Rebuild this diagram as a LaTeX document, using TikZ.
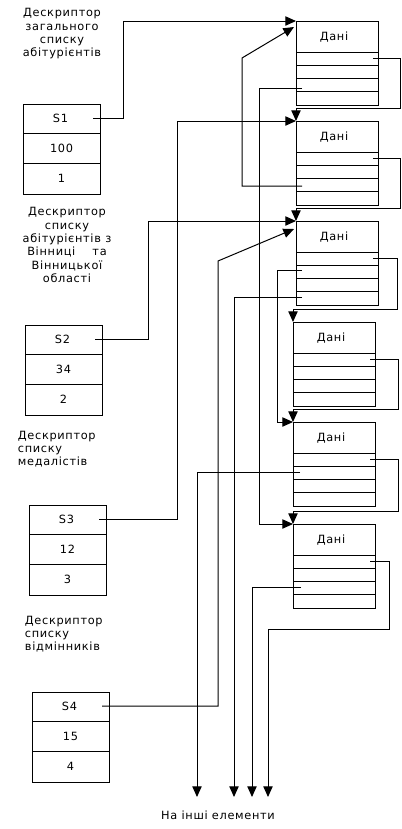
\documentclass[tikz,border=0pt]{standalone}
\usepackage{fontspec}
\setmainfont{DejaVu Sans}[LetterSpace=6]
\usetikzlibrary{calc,arrows.meta}

\begin{document}
\begin{tikzpicture}[x=0.75pt,y=-0.75pt,
  font=\fontsize{8.5pt}{10pt}\selectfont, line width=0.75pt,
  ptr/.style={-{Triangle[length=8pt,width=7pt]}},
  elem/.style={draw, anchor=north west, minimum width=61.5pt, minimum height=63pt, inner sep=0pt, outer sep=0pt},
  desc/.style={draw, anchor=north west, minimum width=57.75pt, minimum height=67.5pt, inner sep=0pt, outer sep=0pt}]
\useasboundingbox (0,0) rectangle (401,829);

% descriptor captions
\node[align=center] (l1) at (62,34) {Дескриптор\\загального\\списку\\абітурієнтів};
\node[align=center] (l2) at (67,245) {Дескриптор\\списку\\абітурієнтів з\\Вінниці~~~ та\\Вінницької\\області};
\node[align=left, anchor=west] (l3) at (13,449) {Дескриптор\\списку\\медалістів};
\node[align=left, anchor=west] (l4) at (20,634) {Дескриптор\\списку\\відмінників};
\node (other) at (218,815) {На інші елементи};

% descriptors
\foreach \n/\x/\y/\len/\num in {1/23/104/100/1, 2/25/325/34/2, 3/29/505/12/3, 4/32/692/15/4}{
  \node[desc] (d\n) at (\x,\y) {};
  \draw ($(d\n.north west)+(0,29)$) -- ++(77,0);
  \draw ($(d\n.north west)+(0,59)$) -- ++(77,0);
  \node (ds\n) at ($(d\n.north)+(-1,14)$) {S\n};
  \node (dl\n) at ($(d\n.north)+(0,44)$) {\len};
  \node (dn\n) at ($(d\n.north)+(0,74)$) {\num};
  \coordinate (s\n) at ($(d\n.north east)+(-7,14)$);
}

% list elements
\foreach \n/\x/\y in {1/296/21, 2/296/121, 3/296/221, 4/293/322, 5/293/422, 6/293/524}{
  \node[elem] (e\n) at (\x,\y) {};
  \node (h\n) at ($(e\n.north)+(-3,16)$) {Дані};
  \foreach \k in {31,44,57,70}
    \draw ($(e\n.north west)+(0,\k)$) -- ++(82,0);
  \coordinate (n\n) at ($(e\n.north east)+(-5,37)$);
}

% outgoing ends
\coordinate (o1) at (197,797);
\coordinate (o2) at (234,797);
\coordinate (o3) at (252,797);
\coordinate (o4) at (268,797);

% general list
\foreach \n/\m/\r in {1/2/27, 2/3/27, 3/4/24, 4/5/28, 5/6/28}
  \draw[ptr] (n\n) -- ++(\r,0) |- ($(e\m.north west)+(0,-13)$) -- (e\m.north west);
\draw[ptr] (n6) -- ++(19,0) -- ++(0,68) -| (o4);

% descriptors to first elements
\draw[ptr] (s1) -- ++(30,0) |- (e1.north west);
\draw[ptr] (s2) -- ++(53,0) |- (e3.north west);
\draw[ptr] (s3) -- ++(78,0) |- (e2.north west);
\draw[ptr] (s4) -- ++(116,0) -- ++(0,-445) -- ($(e3.north west)+(-2,8)$);

% links between elements
\coordinate (r13) at ($(e1.north west)+(6,67)$);
\coordinate (r23) at ($(e2.north west)+(6,65)$);
\coordinate (r32) at ($(e3.north west)+(6,49)$);
\coordinate (r34) at ($(e3.north west)+(6,76)$);
\coordinate (r52) at ($(e5.north west)+(7,50)$);
\coordinate (r63) at ($(e6.north west)+(8,63)$);
\draw[ptr] (r13) -- ++(-43,0) |- (e6.north west);
\draw[ptr] (r23) -- ++(-60,0) -- ++(0,-128) -- ($(e1.north west)+(-2,6)$);
\draw[ptr] (r32) -- ++(-25,0) |- (e5.north west);
\draw[ptr] (r34) -| (o2);
\draw[ptr] (r52) -| (o1);
\draw[ptr] (r63) -| (o3);
\end{tikzpicture}
\end{document}
